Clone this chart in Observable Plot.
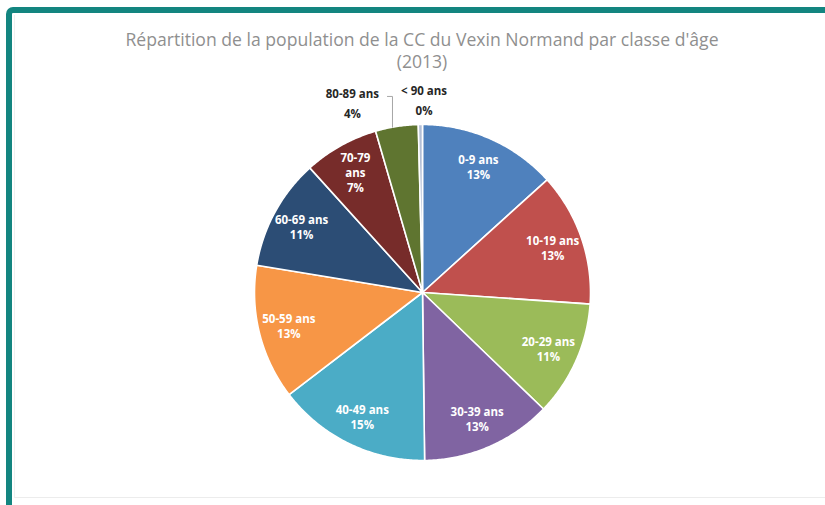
<!DOCTYPE html>
<html><head><meta charset="utf-8">
<script src="https://cdn.jsdelivr.net/npm/d3@7"></script>
<script src="https://cdn.jsdelivr.net/npm/@observablehq/plot@0.6"></script>
<style>
body{margin:0;background:#fff;width:825px;height:505px;overflow:hidden;position:relative;font-family:"Open Sans",sans-serif}
#frame{position:absolute;left:6px;top:7px;width:900px;height:600px;border-left:6px solid #138580;border-top:6px solid #138580;border-top-left-radius:7px;box-sizing:border-box}
#inner{position:absolute;left:14px;top:15px;width:900px;height:482px;border-left:1px solid #f0f0f0;border-bottom:1px solid #ececec}
#chart{position:absolute;left:0;top:0}
#chart svg{display:block}
#title{position:absolute;top:28px;left:0;width:844px;text-align:center;color:#8f8f8f;font-size:17.6px;line-height:22px}
</style></head><body>
<div id="frame"></div>
<div id="inner"></div>
<div id="chart"></div>
<div id="title">Répartition de la population de la CC du Vexin Normand par classe d'âge<br>(2013)</div>
<script>
const categories = ["0-9 ans","10-19 ans","20-29 ans","30-39 ans","40-49 ans","50-59 ans","60-69 ans","70-79 ans","80-89 ans","< 90 ans"];
const shares = [13.3,12.8,11.1,12.6,14.8,13.0,10.7,7.2,4.1,0.4];
const colors = ["#4f81bd","#c0504d","#9bbb59","#8064a2","#4bacc6","#f79646","#2c4d75","#772c2a","#5f7530","#b3bfd6"];

const total = d3.sum(shares);
const arcs = d3.pie().sort(null).value(d => d)(shares);

const slices = arcs.map((a, i) => {
  const n = Math.max(2, Math.ceil((a.endAngle - a.startAngle) / (Math.PI / 360)));
  const ring = [[0, 0]];
  for (let k = 0; k <= n; k++) {
    const t = a.startAngle + (a.endAngle - a.startAngle) * k / n;
    ring.push([Math.sin(t), -Math.cos(t)]);
  }
  ring.push([0, 0]);
  return {type: "Feature", properties: {name: categories[i], color: colors[i]}, geometry: {type: "Polygon", coordinates: [ring]}};
});

const labels = arcs.map((a, i) => {
  const m = (a.startAngle + a.endAngle) / 2;
  const frac = shares[i] / total;
  const inside = frac >= 0.05;
  const r = inside ? 0.82 : 1.17;
  const name = frac < 0.08 && inside ? categories[i].replace(" ", "\n") : categories[i];
  return {i, x: r * Math.sin(m), y: -r * Math.cos(m), inside, text: name + "\n" + Math.round(frac * 100) + "%"};
});

// leader line for the small outer label
const a8 = arcs[8];
const tl = a8.startAngle + 0.4 * (a8.endAngle - a8.startAngle);
const px = Math.sin(tl), py = -Math.cos(tl);
const leader = {type: "LineString", coordinates: [[px, py], [px, -1.167], [px - 0.03, -1.167]]};

const chart = Plot.plot({
  width: 825, height: 505,
  marginLeft: 254, marginRight: 235, marginTop: 124, marginBottom: 45,
  projection: {type: "identity", clip: false, domain: {type: "MultiPoint", coordinates: [[-1, -1], [1, 1]]}},
  style: {fontFamily: "Open Sans", background: "transparent", overflow: "visible"},
  marks: [
    Plot.geo(slices, {fill: d => d.properties.color, stroke: "white", strokeWidth: 1.6}),
    Plot.geo([leader], {stroke: "#a6a6a6", strokeWidth: 1, clip: false}),
    Plot.text(labels.filter(d => d.inside), {x: "x", y: "y", text: "text", fill: "white", fontWeight: "bold", fontSize: 11.5, lineHeight: 1.3}),
    Plot.text(labels.filter(d => d.i === 8), {x: "x", y: "y", text: "text", fill: "#262626", fontWeight: "bold", fontSize: 11.5, lineHeight: 1.75, dx: -40, dy: 3, clip: false}),
    Plot.text(labels.filter(d => d.i === 9), {x: "x", y: "y", text: "text", fill: "#262626", fontWeight: "bold", fontSize: 11.5, lineHeight: 1.75, dx: 4, dy: 3, clip: false})
  ]
});
document.getElementById("chart").appendChild(chart);
</script>
</body></html>
